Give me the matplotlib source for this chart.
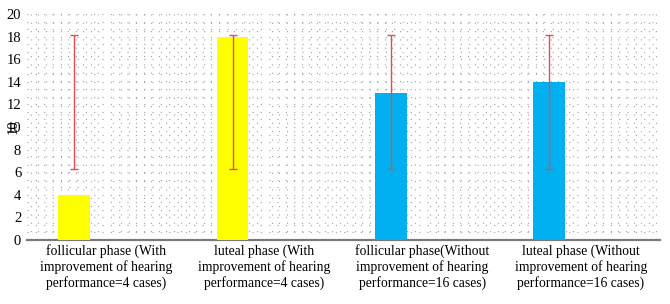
import matplotlib
matplotlib.use("Agg")
import matplotlib.pyplot as plt
import numpy as np
from matplotlib.ticker import MultipleLocator

categories = [
    "follicular phase (With\nimprovement of hearing\nperformance=4 cases)",
    "luteal phase (With\nimprovement of hearing\nperformance=4 cases)",
    "follicular phase(Without\nimprovement of hearing\nperformance=16 cases)",
    "luteal phase (Without\nimprovement of hearing\nperformance=16 cases)",
]
values = [4, 18, 13, 14]
colors = ["#FFFF00", "#FFFF00", "#00B0F0", "#00B0F0"]
err_low = [6.3, 6.3, 6.3, 6.3]
err_high = [18.1, 18.1, 18.1, 18.1]

plt.rcParams["font.family"] = ["Liberation Serif", "Noto Sans CJK SC"]

fig = plt.figure(figsize=(6.7, 3.04), dpi=100)
ax = fig.add_axes([0.040, 0.2105, 0.945, 0.7435])

x = np.arange(len(categories))
xb = x - 0.2
ax.bar(xb, values, width=0.2, color=colors, zorder=3)

mid = [(lo + hi) / 2 for lo, hi in zip(err_low, err_high)]
half = [(hi - lo) / 2 for lo, hi in zip(err_low, err_high)]
ax.errorbar(xb, mid, yerr=half, fmt="none", ecolor="#E24A55",
            elinewidth=1.0, capsize=3, capthick=1.0, zorder=4)

ax.set_xlim(-0.5, 3.5)
ax.set_ylim(0, 20)
ax.set_yticks(range(0, 21, 2))
ax.yaxis.set_minor_locator(MultipleLocator(2 / 3))
ax.xaxis.set_minor_locator(MultipleLocator(4 / 84))
ax.set_xticks(x)
ax.set_xticklabels(categories, fontsize=9.8, linespacing=1.2)
ax.tick_params(axis="both", which="both", length=0)
ax.tick_params(axis="y", labelsize=10.5, pad=4)
ax.tick_params(axis="x", pad=3)
ax.grid(which="both", axis="both", color="#A0A0A0", linestyle=(0, (1, 6.5)),
        linewidth=0.8, zorder=0)
ax.grid(which="major", axis="x", visible=False)

for s in ["left", "right", "top"]:
    ax.spines[s].set_visible(False)
ax.spines["bottom"].set_color("#7A7A7A")
ax.spines["bottom"].set_linewidth(1.6)

# overprinted rotated label at the "10" tick, as in the source image
ax.text(-0.0215, 10, "10", rotation=90, ha="center", va="center",
        fontsize=10.5, clip_on=False, transform=ax.get_yaxis_transform())

fig.savefig("out.png", dpi=100)
